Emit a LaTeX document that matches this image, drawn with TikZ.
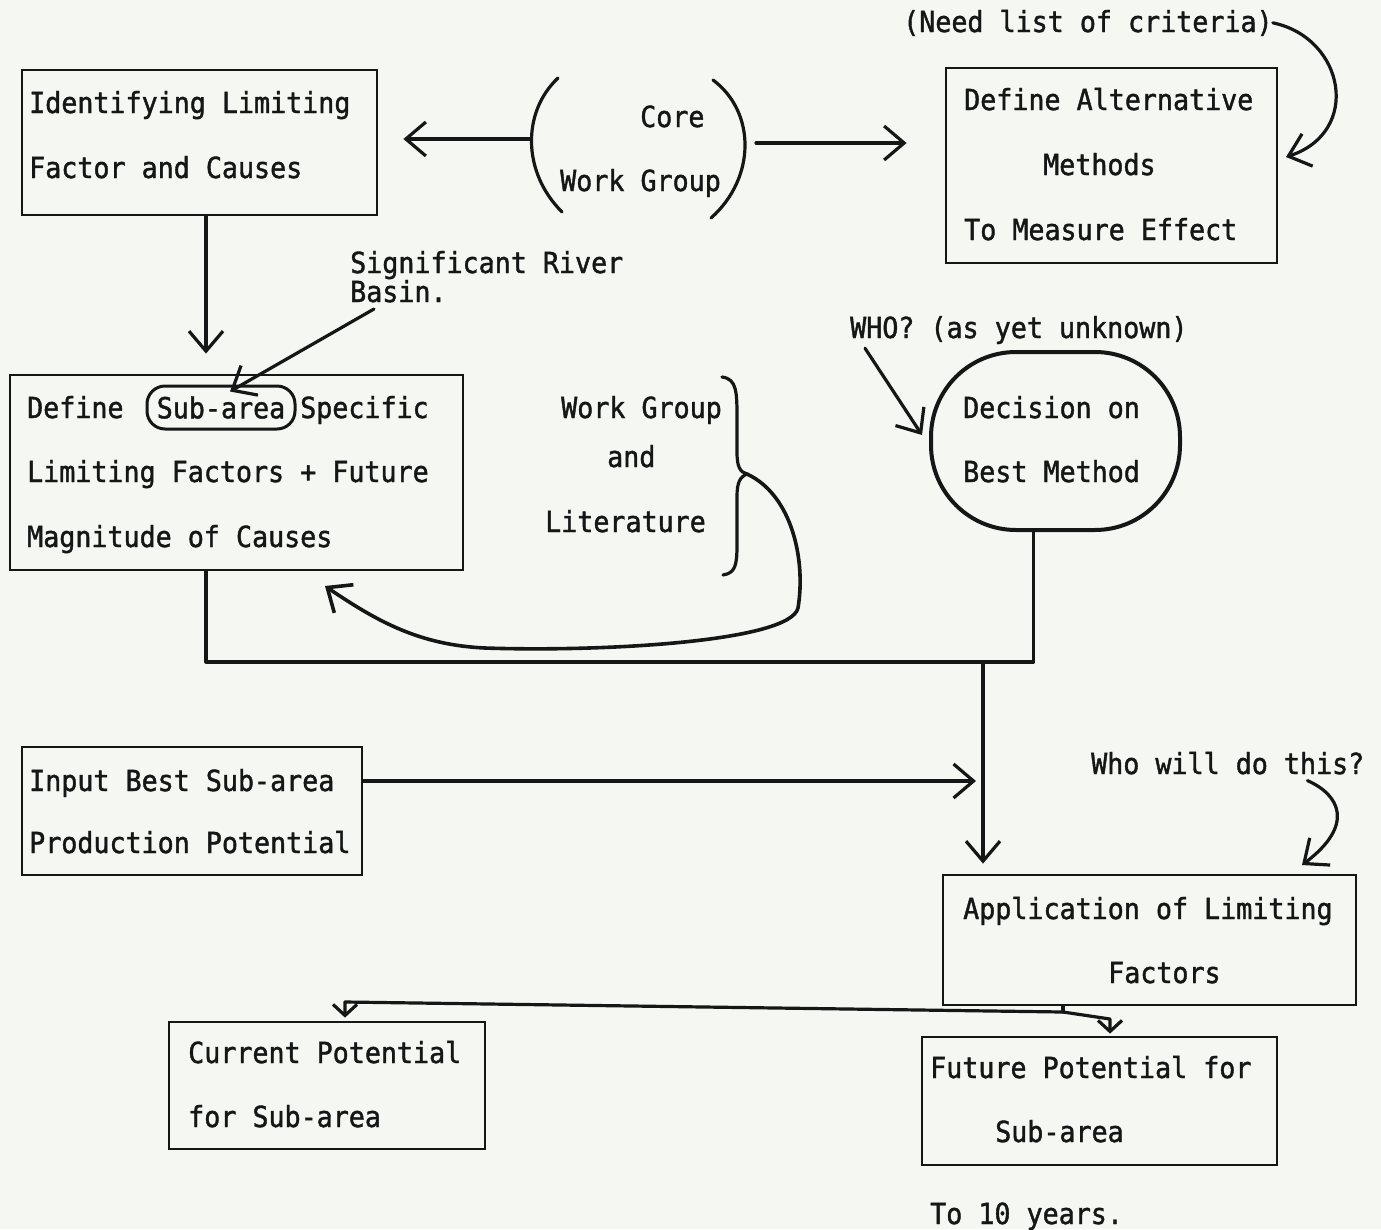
\documentclass[tikz,border=0pt]{standalone}
\usepackage{fontspec}
\newfontfamily\tw[FakeStretch=0.92,FakeBold=1.4]{DejaVu Sans Mono}
\usetikzlibrary{arrows.meta}
\definecolor{paper}{RGB}{244,247,242}
\definecolor{ink}{RGB}{22,22,22}
\begin{document}
\begin{tikzpicture}[x=1pt,y=-1pt,
  every node/.style={font=\tw\fontsize{29}{30}\selectfont, text=ink, inner sep=0pt},
  tx/.style={anchor=base west},
  box/.style={draw=ink, line width=2.8pt, rectangle},
  line/.style={draw=ink, line width=3.2pt, line cap=round, line join=round},
  arr/.style={line, -{Straight Barb[length=20pt,width=34pt]}},
  arrsmall/.style={line, -{Straight Barb[length=11pt,width=24pt]}},
  subov/.style={draw=ink, line width=3pt, rounded corners=18pt, minimum width=148pt, minimum height=43pt}
]
\fill[paper] (0,0) rectangle (1381,1229);
\useasboundingbox (0,0) rectangle (1381,1229);

% boxes
\node[box, minimum width=355pt, minimum height=145pt] (b1) at (199.5,142.5) {};
\node[box, minimum width=331pt, minimum height=195pt] (b2) at (1111.5,165.5) {};
\node[box, minimum width=453pt, minimum height=195pt] (b3) at (236.5,472.5) {};
\node[box, minimum width=340pt, minimum height=128pt] (b4) at (192,811) {};
\node[box, minimum width=413pt, minimum height=130pt] (b5) at (1149.5,940) {};
\node[box, minimum width=316pt, minimum height=127pt] (b6) at (327,1085.5) {};
\node[box, minimum width=355pt, minimum height=128pt] (b7) at (1099.5,1101) {};
\node[draw=ink, line width=4pt, rounded corners=85pt, minimum width=249pt, minimum height=178pt] (dec) at (1055.5,441) {};

% texts
\node[tx] (t1a) at (29,113) {Identifying Limiting};
\node[tx] (t1b) at (29,178) {Factor and Causes};
\node[tx] (core) at (640,127) {Core};
\node[tx] (wg) at (560,191) {Work Group};
\node[tx] (t2a) at (964,110) {Define Alternative};
\node[tx] (t2b) at (1043,175) {Methods};
\node[tx] (t2c) at (964,240) {To Measure Effect};
\node[tx] (crit) at (903,32) {(Need list of criteria)};
\node[tx] (sig1) at (350,273) {Significant River};
\node[tx] (sig2) at (350,302) {Basin.};
\node[tx] (t3a) at (27,418) {Define};
\node[subov] (sub) at (221,407.5) {Sub-area};
\node[tx] (t3b) at (300,418) {Specific};
\node[tx] (t3c) at (27,482) {Limiting Factors + Future};
\node[tx] (t3d) at (27,547) {Magnitude of Causes};
\node[tx] (wl1) at (561,418) {Work Group};
\node[tx] (wl2) at (607,467) {and};
\node[tx] (wl3) at (545,532) {Literature};
\node[tx] (who) at (850,338) {WHO? (as yet unknown)};
\node[tx] (dc1) at (963,418) {Decision on};
\node[tx] (dc2) at (963,482) {Best Method};
\node[tx] (t4a) at (29,791) {Input Best Sub-area};
\node[tx] (t4b) at (29,853) {Production Potential};
\node[tx] (whw) at (1091,774) {Who will do this?};
\node[tx] (t5a) at (963,919) {Application of Limiting};
\node[tx] (t5b) at (1108,983) {Factors};
\node[tx] (t6a) at (188,1063) {Current Potential};
\node[tx] (t6b) at (188,1127) {for Sub-area};
\node[tx] (t7a) at (930,1078) {Future Potential for};
\node[tx] (t7b) at (995,1142) {Sub-area};
\node[tx] (ten) at (930,1224) {To 10 years.};

% parentheses round Core Work Group
\coordinate (lp) at (530,139);
\coordinate (rp) at (749,143);
\draw[line] (558,78) .. controls (522,112) and (522,172) .. (562,212);
\draw[line] (713,80) .. controls (756,112) and (756,178) .. (711,218);
\draw[arr, shorten >=25pt] (lp) -- (lp -| b1.east);
\draw[arr, shorten >=38pt] ([xshift=7pt]rp) -- (rp -| b2.west);

% criteria note arrow
\draw[arr] (crit.east) .. controls (1345,38) and (1362,132) .. (1286,157);

% box1 -> box3
\draw[arr, shorten >=20pt] ([xshift=6.5pt]b1.south) -- ([xshift=6.5pt]b1.south |- b3.north);

% significant river basin -> sub-area
\coordinate (sigs) at (374,309);
\draw[arr] (sigs) -- ([xshift=9pt,yshift=-7pt]sub.north);

% brace
\draw[line] (722,377) .. controls (737,379) and (737,392) .. (737,420) -- (737,452)
  .. controls (737,467) and (740,472) .. (747,474)
  .. controls (740,477) and (737,482) .. (737,497) -- (737,545)
  .. controls (737,566) and (735,573) .. (723,575);
\coordinate (bt) at (747,474);
\draw[arr, line width=3.6pt] (bt) .. controls (792,495) and (806,560) .. (798,608)
  .. controls (790,642) and (600,652) .. (485,648)
  .. controls (420,645) and (378,622) .. (325,586);

% WHO? arrow
\draw[arr] ([xshift=15pt,yshift=-4pt]who.south west) -- ([xshift=-7pt,yshift=6pt]dec.west);

% collector line
\coordinate (jn) at (983,662);
\draw[line] ([xshift=-30.5pt]b3.south) |- (jn) -| ([xshift=-22pt]dec.south);
\draw[arr, shorten >=10pt] (jn) -- (jn |- b5.north);
\draw[arr, shorten >=7pt] ([yshift=30pt]b4.east) -- ([yshift=30pt]b4.east -| jn);

% who will do this arrow
\draw[arr] ([xshift=-57pt,yshift=-6pt]whw.south east) .. controls (1340,795) and (1355,825) .. (1302,865);

% outputs
\coordinate (jb) at (1063,1012);
\coordinate (c6) at ([xshift=18pt,yshift=3pt]b6.north);
\coordinate (c7) at ([xshift=10.5pt,yshift=2pt]b7.north);
\draw[line] (jb |- b5.south) -- (jb);
\draw[arrsmall] (jb) -- (c6 |- 0,1002) -- (c6);
\draw[arrsmall] (jb) -- (c7 |- 0,1019) -- (c7);
\end{tikzpicture}
\end{document}
